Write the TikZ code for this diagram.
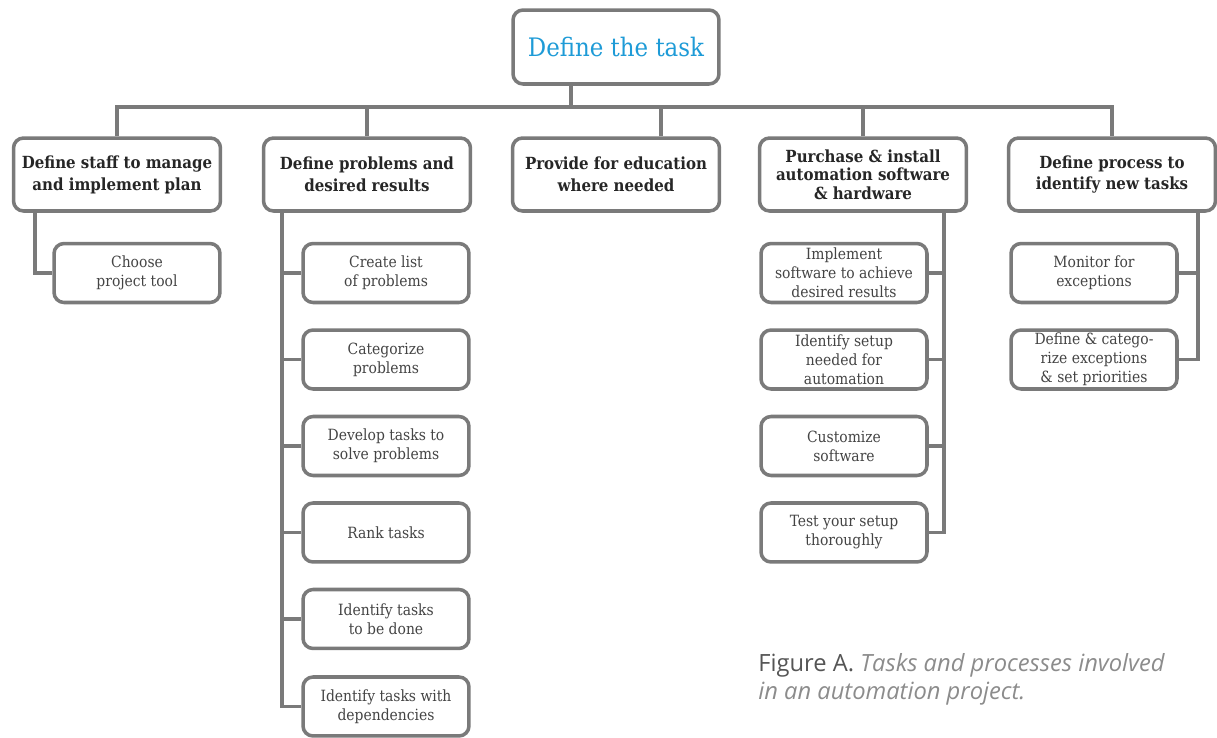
\documentclass[tikz,border=0pt]{standalone}
\usepackage{fontspec}
\setmainfont{DejaVu Serif Condensed}
\setsansfont{Open Sans}
\usepackage{xcolor}
\usetikzlibrary{positioning, calc}
\definecolor{boxgray}{HTML}{7A7A7A}
\definecolor{taskblue}{HTML}{1E9BD7}
\definecolor{textgray}{HTML}{444444}
\definecolor{capgray}{HTML}{8C8C8C}
\definecolor{capdark}{HTML}{555555}

\begin{document}
\begin{tikzpicture}[x=0.02cm,y=-0.02cm,
  box/.style={draw=boxgray,line width=2pt,rounded corners=0.2cm,fill=white,align=center,inner sep=1pt},
  rootbox/.style={box,minimum width=4.12cm,minimum height=1.48cm,text=taskblue,font=\fontsize{14.5}{16}\selectfont},
  mainbox/.style={box,minimum width=4.14cm,minimum height=1.46cm,text=black!85,font=\bfseries\fontsize{9.5}{12.5}\selectfont},
  subbox/.style={box,minimum width=3.32cm,minimum height=1.18cm,text=textgray,font=\fontsize{8.8}{10.8}\selectfont},
  conn/.style={draw=boxgray,line width=2pt}]
\useasboundingbox (0,0) rectangle (1217,737);
% top of the tree
\node[rootbox] (root) at (616,47) {Define the task};
\node[mainbox] (staff) at (117,174.5) {Define staff to manage\\and implement plan};
\node[mainbox] (problems) at (367,174.5) {Define problems and\\desired results};
\node[mainbox] (education) at (616,174.5) {Provide for education\\where needed};
\node[mainbox,font=\bfseries\fontsize{9.5}{10.6}\selectfont] (purchase) at (863,174.5) {Purchase \& install\\automation software\\\& hardware};
\node[mainbox] (process) at (1112,174.5) {Define process to\\identify new tasks};
% sub tasks
\node[subbox] (choose) at (137,273) {Choose\\project tool};
\node[subbox] (list) at (386,273) {Create list\\of problems};
\node[subbox,below=0.48cm of list] (categorize) {Categorize\\problems};
\node[subbox,below=0.48cm of categorize] (develop) {Develop tasks to\\solve problems};
\node[subbox,below=0.48cm of develop] (rank) {Rank tasks};
\node[subbox,below=0.48cm of rank] (todo) {Identify tasks\\to be done};
\node[subbox,below=0.5cm of todo] (deps) {Identify tasks with\\dependencies};
\node[subbox] (implement) at (844,273) {Implement\\software to achieve\\desired results};
\node[subbox,below=0.48cm of implement] (setup) {Identify setup\\needed for\\automation};
\node[subbox,below=0.48cm of setup] (customize) {Customize\\software};
\node[subbox,below=0.48cm of customize] (testsetup) {Test your setup\\thoroughly};
\node[subbox] (monitor) at (1094,273) {Monitor for\\exceptions};
\node[subbox,below=0.48cm of monitor] (exceptions) {Define \& catego-\\rize exceptions\\\& set priorities};
% connectors
\coordinate (bus) at (0,107);
\coordinate (rootstem) at ($(root.south)+(-45,0)$);
\coordinate (edustem) at ($(education.north)+(45,0)$);
\draw[conn] (staff.north) |- (bus -| process.north) -- (process.north);
\draw[conn] (rootstem) -- (rootstem |- bus);
\draw[conn] (problems.north) -- (problems.north |- bus);
\draw[conn] (edustem) -- (edustem |- bus);
\draw[conn] (purchase.north) -- (purchase.north |- bus);
\coordinate (staffstem) at ($(staff.south west)+(23,0)$);
\draw[conn] (staffstem) |- (choose.west);
\coordinate (probstem) at ($(problems.south west)+(20,0)$);
\draw[conn] (probstem) |- (deps.west);
\draw[conn] (list.west) -- (list.west -| probstem);
\draw[conn] (categorize.west) -- (categorize.west -| probstem);
\draw[conn] (develop.west) -- (develop.west -| probstem);
\draw[conn] (rank.west) -- (rank.west -| probstem);
\draw[conn] (todo.west) -- (todo.west -| probstem);
\coordinate (purstem) at ($(purchase.south east)+(-24,0)$);
\draw[conn] (purstem) |- (testsetup.east);
\draw[conn] (implement.east) -- (implement.east -| purstem);
\draw[conn] (setup.east) -- (setup.east -| purstem);
\draw[conn] (customize.east) -- (customize.east -| purstem);
\coordinate (procstem) at ($(process.south east)+(-19,0)$);
\draw[conn] (procstem) |- (exceptions.east);
\draw[conn] (monitor.east) -- (monitor.east -| procstem);
% caption
\node[anchor=north west,align=left,inner sep=0pt,text=capgray,font=\sffamily\fontsize{13.5}{16}\selectfont] (caption) at (758,653)
  {\textcolor{capdark}{Figure A.} \textit{Tasks and processes involved}\\\textit{in an automation project.}};
\end{tikzpicture}
\end{document}
